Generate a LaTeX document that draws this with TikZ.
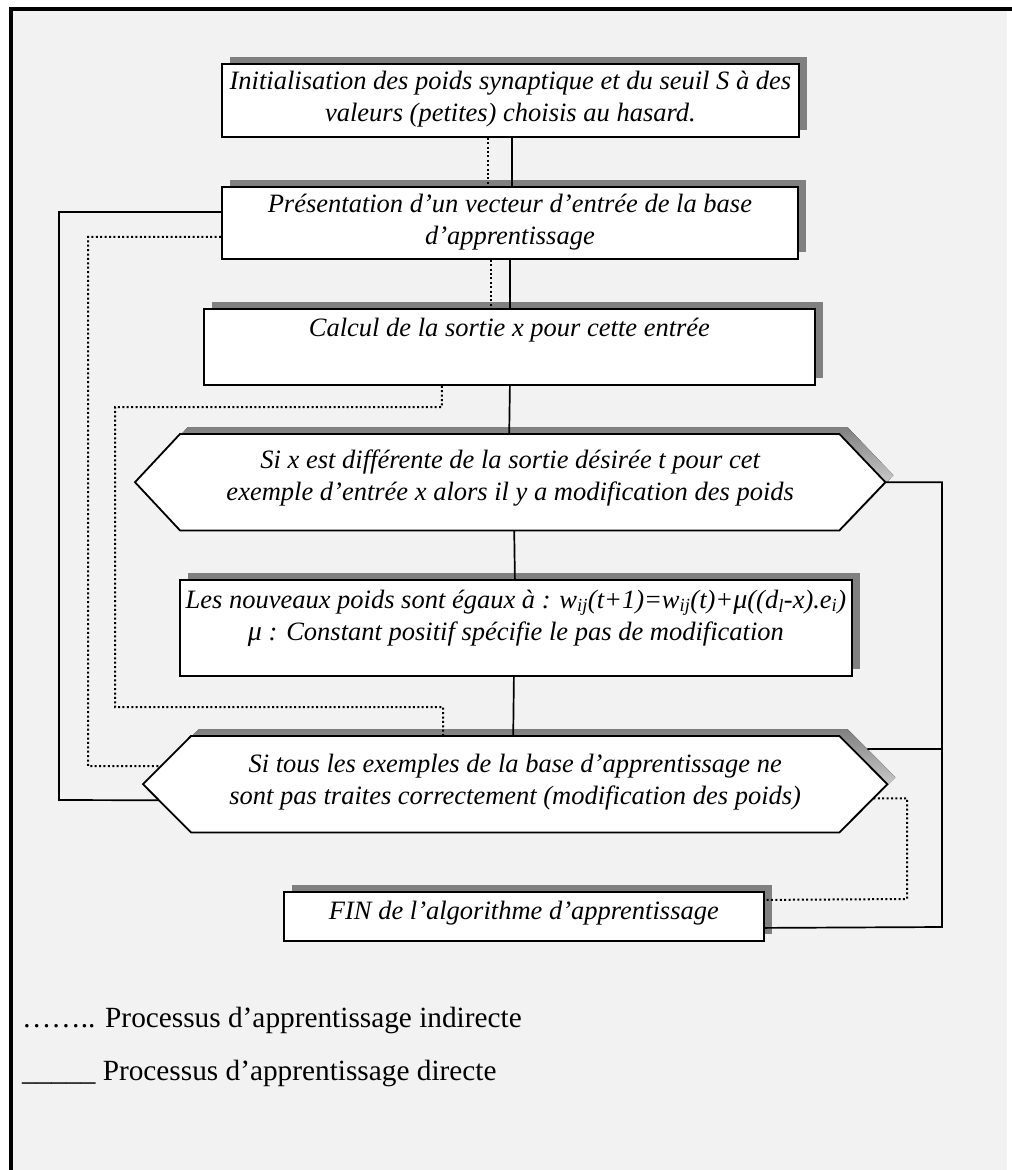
\documentclass[tikz,border=0pt]{standalone}
\usepackage{fontspec}
\setmainfont{Liberation Serif}
\usetikzlibrary{calc,shadows}
\definecolor{pagebg}{HTML}{F2F2F2}
\definecolor{shade}{HTML}{808080}

% outline of a two-pointed box laid over an invisible node #1
% #2 = left inset, #3 = right inset
\newcommand\hexoutline[3]{($(#1.north west)+(#2,0)$) -- ($(#1.north east)+(-#3,0)$) -- (#1.east) -- ($(#1.south east)+(-#3,0)$) -- ($(#1.south west)+(#2,0)$) -- (#1.west) -- cycle}

\begin{document}
\begin{tikzpicture}[x=1pt,y=-1pt,
  stepbox/.style={draw, line width=1.8pt, fill=white, rectangle, inner sep=0pt,
    anchor=north west, general shadow={fill=shade, shadow xshift=8pt, shadow yshift=7pt}},
  hexframe/.style={inner sep=0pt, anchor=north west},
  hexline/.style={draw, line width=1.8pt, fill=white, line join=miter},
  txt/.style={font=\itshape\fontsize{26.5}{32}\selectfont, align=center, inner sep=0pt,
    anchor=north, execute at begin node={\rule{0pt}{22.4pt}}},
  legend/.style={font=\fontsize{29.3}{36}\selectfont, inner sep=0pt, anchor=base west},
  direct/.style={line width=1.7pt},
  indirect/.style={line width=2pt, dash pattern=on 2pt off 2.4pt}
]
% page and frame
\useasboundingbox (0,0) rectangle (1012,1170);
\fill[white] (0,0) rectangle (1012,1170);
\fill[pagebg] (11,9) rectangle (1007,1170);
\draw[line width=4pt] (11.3,1170) -- (11.3,8.7) -- (1012,8.7);

% rectangular steps
\node[stepbox, minimum width=577, minimum height=73] (b1) at (221,63) {};
\node[stepbox, minimum width=576, minimum height=72] (b2) at (221,186) {};
\node[stepbox, minimum width=611, minimum height=76] (b3) at (203,308) {};
\node[stepbox, minimum width=672, minimum height=96] (b5) at (179,579) {};
\node[stepbox, minimum width=480, minimum height=49] (fin) at (283,891) {};

% decision shapes
\node[hexframe, minimum width=750, minimum height=96] (h1) at (135,434) {};
\node[hexframe, minimum width=744, minimum height=96] (h2) at (143,736) {};
\fill[shade, transform canvas={xshift=8pt, yshift=7pt}] \hexoutline{h1}{45}{46};
\path[hexline] \hexoutline{h1}{45}{46};
\fill[shade, transform canvas={xshift=8pt, yshift=7pt}] \hexoutline{h2}{48}{48};
\path[hexline] \hexoutline{h2}{48}{48};

% corners of the lower decision shape
\coordinate (h2nw) at ($(h2.north west)+(48,0)$);
\coordinate (h2sw) at ($(h2.south west)+(48,0)$);
\coordinate (h2ne) at ($(h2.north east)+(-48,0)$);
\coordinate (h2se) at ($(h2.south east)+(-48,0)$);

% texts
\node[txt] (t1) at ($(b1.north)+(0,7.6)$) {Initialisation des poids synaptique et du seuil S à des\\valeurs (petites) choisis au hasard.};
\node[txt] (t2) at ($(b2.north)+(0,7.6)$) {Présentation d’un vecteur d’entrée de la base\\d’apprentissage};
\node[txt] (t3) at ($(b3.north)+(0,5.6)$) {Calcul de la sortie x pour cette entrée};
\node[txt] (t4) at ($(h1.north)+(0,15.6)$) {Si x est différente de la sortie désirée t pour cet\\exemple d’entrée x alors il y a modification des poids};
\node[txt] (t5) at ($(b5.north)+(0,10.6)$) {Les nouveaux poids sont égaux à : w\textsubscript{ij}(t+1)=w\textsubscript{ij}(t)+{\fontsize{28}{32}\selectfont μ}((d\textsubscript{l}-x).e\textsubscript{i})\\{\fontsize{28}{32}\selectfont μ} : Constant positif spécifie le pas de modification};
\node[txt] (t6) at ($(h2.north)+(0,17.6)$) {Si tous les exemples de la base d’apprentissage ne\\sont pas traites correctement (modification des poids)};
\node[txt] (t7) at ($(fin.north)+(0,5.6)$) {FIN de l’algorithme d’apprentissage};

% direct process (solid)
\draw[direct] ([xshift=1.5pt]b1.south) -- ([xshift=2pt]b2.north);
\draw[direct] (b2.south) -- ([xshift=0.5pt]b3.north);
\draw[direct] ([xshift=0.5pt]b3.south) -- ([xshift=-1pt]h1.north);
\draw[direct] ([xshift=4pt]h1.south) -- ([xshift=-1pt]b5.north);
\draw[direct] ([xshift=-2pt]b5.south) -- ([xshift=-2pt]h2.north);
\draw[direct] ([yshift=11pt]b2.west) -| (59,800) -- ($(h2.west)!1/3!(h2sw)$);
\draw[direct] (h1.east) -| (942,927) -- ([yshift=-11.5pt]fin.east);
\draw[direct] ($(h2ne)!20/48!(h2.east)+(8,-7)$) -- (942,749);

% indirect process (dotted)
\draw[indirect] ([xshift=-22.5pt]b1.south) -- ([xshift=-22pt]b2.north);
\draw[indirect] ([xshift=-19pt]b2.south) -- ([xshift=-18.5pt]b3.north);
\draw[indirect] ([xshift=-67.5pt]b3.south) |- (115,407) |- (443,707) -- ([xshift=-72pt]h2.north);
\draw[indirect] ([yshift=-14pt]b2.west) -| (88,766) -- ($(h2.west)!0.375!(h2nw)$);
\draw[indirect] ($(h2.east)!14/48!(h2se)$) -| (907,899) -- ([yshift=16.5pt]fin.east);

% key
\node[legend] (k1) at (22,1027) {…….. Processus d’apprentissage indirecte};
\node[legend] (k2) at (22,1080) {\_\_\_\_\_ Processus d’apprentissage directe};
\end{tikzpicture}
\end{document}
